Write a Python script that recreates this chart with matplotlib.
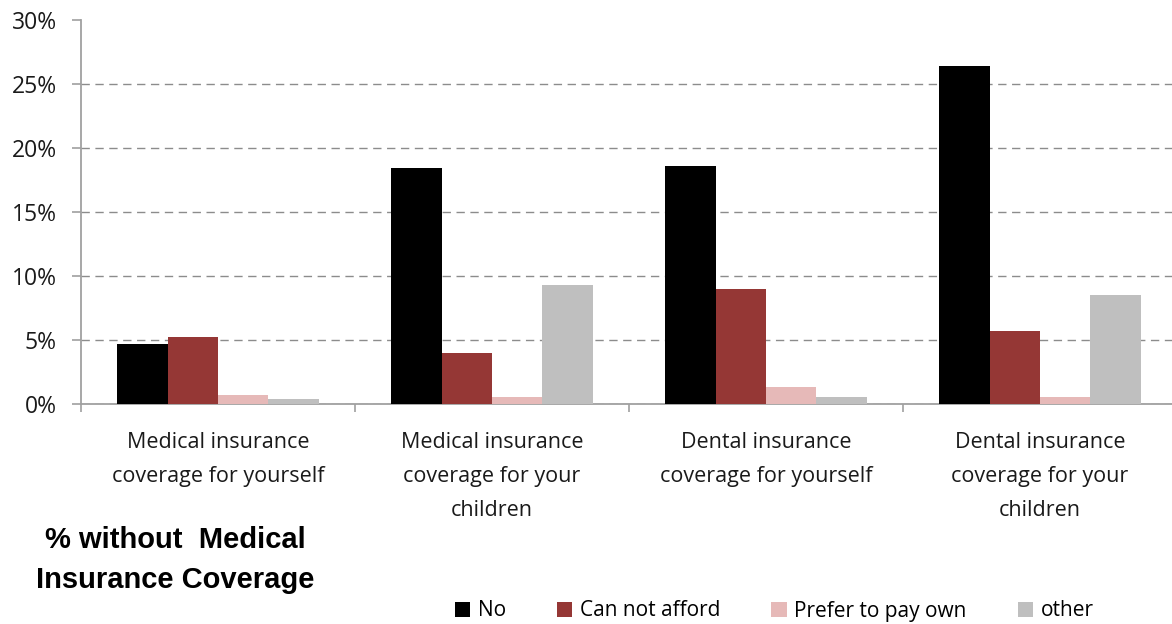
import numpy as np
import matplotlib.pyplot as plt
from matplotlib.ticker import FuncFormatter, FixedLocator

# Data
categories = [
    "Medical insurance\ncoverage for yourself",
    "Medical insurance\ncoverage for your\nchildren",
    "Dental insurance\ncoverage for yourself",
    "Dental insurance\ncoverage for your\nchildren",
]
series_names = ["No", "Can not afford", "Prefer to pay own", "other"]
no_vals = [4.7, 18.4, 18.6, 26.4]
cannot_afford = [5.2, 4.0, 9.0, 5.7]
prefer_own = [0.7, 0.55, 1.3, 0.55]
other_vals = [0.4, 9.3, 0.55, 8.5]
colors = ["#000000", "#953735", "#E6B9B8", "#BFBFBF"]

values = [no_vals, cannot_afford, prefer_own, other_vals]

fig = plt.figure(figsize=(11.72, 6.24), dpi=100)
ax = fig.add_axes([81 / 1172, 1 - 404 / 624, 4 * 274 / 1172, 384 / 624])

x = np.arange(len(categories))
width = 0.1835
for i, (name, vals) in enumerate(zip(series_names, values)):
    ax.bar(x + (i - 1.5) * width, vals, width=width, color=colors[i],
           label=name, zorder=3)

ax.set_xlim(-0.5, len(categories) - 0.5)
ax.set_ylim(0, 30)
ax.set_yticks(np.arange(0, 31, 5))
ax.yaxis.set_major_formatter(FuncFormatter(lambda v, p: f"{int(v)}%"))

# Gridlines
ax.set_axisbelow(True)
ax.yaxis.grid(True, color="#8c8c8c", linestyle=(0, (6, 4)), linewidth=1.0)
ax.get_ygridlines()[-1].set_visible(False)

# Spines
for s in ["top", "right"]:
    ax.spines[s].set_visible(False)
for s in ["left", "bottom"]:
    ax.spines[s].set_color("#a0a0a0")
    ax.spines[s].set_linewidth(1.3)

ax.tick_params(axis="y", direction="out", length=6.5, width=1.2,
               color="#a0a0a0", pad=11, labelsize=16.5, labelcolor="#1a1a1a")
for lbl in ax.get_yticklabels():
    lbl.set_fontfamily("Open Sans")

# X: boundaries as major ticks, categories as minor tick labels
ax.xaxis.set_major_locator(FixedLocator(np.arange(-0.5, len(categories), 1.0)))
ax.set_xticklabels([])
ax.xaxis.set_minor_locator(FixedLocator(x))
ax.set_xticklabels(categories, minor=True)
ax.tick_params(axis="x", which="major", direction="out", length=6,
               width=1.2, color="#a0a0a0")
ax.tick_params(axis="x", which="minor", length=0, pad=20.5, labelsize=15.5,
               labelcolor="#1a1a1a")
for lbl in ax.get_xticklabels(minor=True):
    lbl.set_fontfamily("Open Sans")
    lbl.set_linespacing(1.8)
    lbl.set_verticalalignment("top")

# Title at bottom left
fig.text(175 / 1172, 1 - 560 / 624, "% without  Medical\nInsurance Coverage",
         ha="center", va="center", fontsize=21, fontweight="bold",
         family="Liberation Sans", linespacing=1.5)

# Legend
leg = fig.legend(loc="center left", bbox_to_anchor=(436 / 1172, 1 - 611 / 624),
                 ncol=4, frameon=False, handlelength=0.75, handleheight=0.75,
                 handletextpad=0.35, columnspacing=2.45,
                 prop={"family": "Open Sans", "size": 15})

fig.savefig("out.png", dpi=100)
